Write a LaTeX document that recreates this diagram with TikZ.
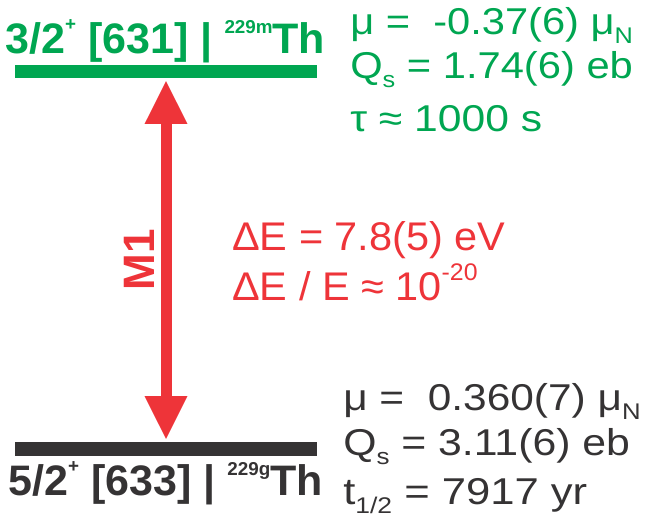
\documentclass[tikz,border=0pt]{standalone}
\usepackage{fontspec}
\setmainfont{Liberation Sans}
\usepackage{graphicx}
\usetikzlibrary{arrows.meta}

\definecolor{thgreen}{RGB}{0,166,81}
\definecolor{thred}{RGB}{238,52,57}
\definecolor{thgray}{RGB}{53,51,52}

% squeeze or stretch a text to a width, keep its height
\newcommand{\fitw}[2]{\resizebox{#1}{\height}{#2}}
% raised / lowered small text
\newcommand{\shifted}[3]{\raisebox{#1}{\fontsize{#2}{#2}\selectfont #3}}
\newcommand{\lowidx}[1]{\raisebox{-7pt}{\fontsize{17}{17}\selectfont #1}}

\begin{document}
\begin{tikzpicture}[x=0.75pt, y=-0.75pt,
                    levelbar/.style={fill=#1, minimum width=226.5pt, inner sep=0pt},
                    statelabel/.style={text=#1, font=\bfseries\fontsize{32}{32}\selectfont, anchor=base west, inner sep=0pt},
                    propline/.style={text=#1, font=\fontsize{28}{28}\selectfont, anchor=base west, inner sep=0pt},
                    trans/.style={draw=thred, line width=8.25pt,
                        {Triangle[length=32pt,width=32pt,line width=0.1pt]}-{Triangle[length=32pt,width=32pt,line width=0.1pt]}}
                ]
    \useasboundingbox (0,0) rectangle (645,522);

    % the two levels
    \node[levelbar=thgreen, minimum height=9.75pt] (upper) at (166,71.5) {};
    \node[levelbar=thgray, minimum height=10.5pt] (lower) at (166,449) {};

    \node[statelabel=thgreen] (upname) at (5,53)
        {\fitw{240pt}{3/2\shifted{17pt}{14}{+} [631] | \shifted{14.5pt}{14}{229m}Th}};
    \node[statelabel=thgray] (lowname) at (8,495)
        {\fitw{236pt}{5/2\shifted{17pt}{14}{+} [633] | \shifted{14.5pt}{14}{229g}Th}};

    % isomer
    \node[propline=thgreen] (upmu) at (350,34) {\fitw{212pt}{μ =\ \ -0.37(6) μ\lowidx{N}}};
    \node[propline=thgreen] (upq) at (350,78) {\fitw{212pt}{Q\lowidx{s} = 1.74(6) eb}};
    \node[propline=thgreen] (uptau) at (350,131) {\fitw{144pt}{τ ≈ 1000 s}};

    % ground state
    \node[propline=thgray] (lowmu) at (343,410) {\fitw{223pt}{μ =\ \ 0.360(7) μ\lowidx{N}}};
    \node[propline=thgray] (lowq) at (343,455) {\fitw{215pt}{Q\lowidx{s} = 3.11(6) eb}};
    \node[propline=thgray] (lowt) at (343,504) {\fitw{183pt}{t\lowidx{1/2} = 7917 yr}};

    % transition
    \draw[trans] ([yshift=-2.25pt]upper.south) -- ([yshift=2.25pt]lower.north);
    \node[text=thred, font=\bfseries\fontsize{33}{33}\selectfont, rotate=90, inner sep=0pt] (m1) at (139,260) {M1};

    \node[propline=thred, font=\fontsize{30}{30}\selectfont] (energy) at (232,250)
        {\fitw{205pt}{ΔE = 7.8(5) eV}};
    \node[propline=thred, font=\fontsize{30}{30}\selectfont] (ratio) at (232,300)
        {\fitw{184pt}{ΔE / E ≈ 10\shifted{15pt}{18}{-20}}};
\end{tikzpicture}
\end{document}
